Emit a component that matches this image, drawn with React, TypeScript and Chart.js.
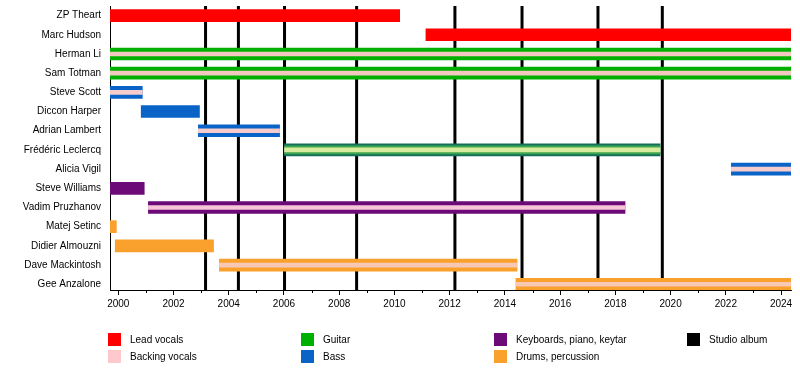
import React, { useEffect, useRef } from 'react';
import { Chart, registerables } from 'chart.js';

Chart.register(...registerables);

const FONT = '"Liberation Sans", Arial, Helvetica, sans-serif';

// ---- data ----
const members = [
  'ZP Theart', 'Marc Hudson', 'Herman Li', 'Sam Totman', 'Steve Scott',
  'Diccon Harper', 'Adrian Lambert', 'Frédéric Leclercq', 'Alicia Vigil',
  'Steve Williams', 'Vadim Pruzhanov', 'Matej Setinc', 'Didier Almouzni',
  'Dave Mackintosh', 'Gee Anzalone',
];
const roles = [
  'Lead vocals', 'Lead vocals', 'Guitar', 'Guitar', 'Bass',
  'Bass', 'Bass', 'Guitar, bass', 'Bass',
  'Keyboards', 'Keyboards', 'Drums', 'Drums',
  'Drums', 'Drums',
];
const startYears = [
  1999.7, 2011.14, 1999.7, 1999.7, 1999.7,
  2000.83, 2002.9, 2006.02, 2022.2,
  1999.7, 2001.09, 1999.7, 1999.89,
  2003.66, 2014.4,
];
const endYears = [
  2010.19, 2024.36, 2024.36, 2024.36, 2000.87,
  2002.94, 2005.84, 2019.62, 2024.36,
  2000.94, 2018.35, 1999.93, 2003.45,
  2014.44, 2024.36,
];
const backingVocals = [
  false, false, true, true, true,
  false, true, true, true,
  false, true, false, false,
  true, true,
];
const albumReleases = [2003.16, 2004.35, 2006.02, 2008.63, 2012.19, 2014.62, 2017.37, 2019.7];
const axisStart = 1999.7;
const axisEnd = 2024.36;
const tickYears = [
  2000, 2001, 2002, 2003, 2004, 2005, 2006, 2007, 2008, 2009, 2010, 2011, 2012,
  2013, 2014, 2015, 2016, 2017, 2018, 2019, 2020, 2021, 2022, 2023, 2024,
];
const legendLabels = [
  'Lead vocals', 'Backing vocals', 'Guitar', 'Bass',
  'Keyboards, piano, keytar', 'Drums, percussion', 'Studio album',
];

// ---- styles ----
const roleColor: Record<string, string> = {
  'Lead vocals': '#ff0000',
  Guitar: '#00b000',
  Bass: '#0a64c8',
  'Guitar, bass': '#13705f',
  Keyboards: '#6c0a78',
  Drums: '#f9a12c',
};
const stripeColor: Record<string, string> = {
  Guitar: '#f2c8c0',
  Bass: '#f6cccc',
  'Guitar, bass': '#d8eca0',
  Keyboards: '#f8c4d8',
  Drums: '#f8c8b4',
};
const legendColors = ['#ff0000', '#ffc8cc', '#00b000', '#0a64c8', '#6c0a78', '#f9a12c', '#000000'];
const legendCols = [108, 301, 494, 687];
const legendRows = [333, 350];
const yMin = -0.5;
const yMax = 14.3;

const albumPlugin = {
  id: 'albumLines',
  beforeDatasetsDraw(chart: any) {
    const { ctx, chartArea, scales } = chart;
    const x = scales.x;
    ctx.save();
    ctx.strokeStyle = '#000';
    ctx.lineWidth = 3;
    albumReleases.forEach((d) => {
      const px = x.getPixelForValue(d);
      ctx.beginPath();
      ctx.moveTo(px, chartArea.top);
      ctx.lineTo(px, chartArea.bottom);
      ctx.stroke();
    });
    ctx.restore();
  },
  afterDraw(chart: any) {
    // short minor ticks for odd years
    const { ctx, chartArea, scales } = chart;
    const x = scales.x;
    ctx.save();
    ctx.strokeStyle = '#000';
    ctx.lineWidth = 1;
    tickYears.filter((y) => y % 2 !== 0).forEach((y) => {
      const px = Math.round(x.getPixelForValue(y)) + 0.5;
      ctx.beginPath();
      ctx.moveTo(px, chartArea.bottom);
      ctx.lineTo(px, chartArea.bottom + 3);
      ctx.stroke();
    });
    ctx.restore();
  },
};

export default function App() {
  const ref = useRef<HTMLCanvasElement | null>(null);

  useEffect(() => {
    if (!ref.current) return;
    Chart.defaults.font.family = FONT;
    const idx = members.map((_, i) => i);
    const stripeIdx = idx.filter((i) => backingVocals[i]);
    const midIdx = idx.filter((i) => roles[i] === 'Guitar, bass');

    const chart = new Chart(ref.current, {
      type: 'bar',
      data: {
        datasets: [
          {
            label: 'stripe',
            data: stripeIdx.map((i) => ({ x: [startYears[i], endYears[i]], y: i })) as any,
            backgroundColor: stripeIdx.map((i) => stripeColor[roles[i]]),
            barThickness: 4,
            order: 1,
          },
          {
            label: 'mid',
            data: midIdx.map((i) => ({ x: [startYears[i], endYears[i]], y: i })) as any,
            backgroundColor: '#3ea64c',
            barThickness: 8,
            order: 2,
          },
          {
            label: 'main',
            data: idx.map((i) => ({ x: [startYears[i], endYears[i]], y: i })) as any,
            backgroundColor: idx.map((i) => roleColor[roles[i]]),
            barThickness: 12,
            order: 3,
          },
        ],
      },
      options: {
        indexAxis: 'y',
        animation: false,
        responsive: false,
        maintainAspectRatio: false,
        layout: { padding: { top: 6, right: 9, left: 0, bottom: 0 } },
        plugins: { legend: { display: false }, tooltip: { enabled: false } },
        datasets: { bar: { grouped: false, borderWidth: 0 } } as any,
        scales: {
          x: {
            type: 'linear',
            bounds: 'data',
            offset: false,
            min: axisStart,
            max: axisEnd,
            afterBuildTicks: (s: any) => {
              s.ticks = tickYears.map((v) => ({ value: v }));
              s.min = axisStart;
              s.max = axisEnd;
            },
            afterFit: (s: any) => {
              s.height = 80;
              s.paddingLeft = 0;
              s.paddingRight = 0;
            },
            grid: {
              drawOnChartArea: false,
              color: '#000',
              tickLength: 5,
              offset: false,
              tickColor: (c: any) => (c.tick && c.tick.value % 2 !== 0 ? 'rgba(0,0,0,0)' : '#000'),
            },
            border: { color: '#000', width: 1 },
            ticks: {
              autoSkip: false,
              maxRotation: 0,
              color: '#000',
              padding: 3,
              font: { family: FONT, size: 10 },
              callback: (v: any) => (Number(v) % 2 === 0 ? String(v) : ''),
            },
          },
          y: {
            type: 'linear',
            bounds: 'data',
            offset: false,
            reverse: true,
            min: yMin,
            max: yMax,
            afterBuildTicks: (s: any) => {
              s.ticks = members.map((_, i) => ({ value: i }));
              s.min = yMin;
              s.max = yMax;
            },
            afterFit: (s: any) => {
              s.width = 110;
              s.paddingTop = 0;
              s.paddingBottom = 0;
            },
            grid: { display: false, drawTicks: false, offset: false },
            border: { color: '#000', width: 1 },
            ticks: {
              autoSkip: false,
              color: '#000',
              padding: 9,
              font: { family: FONT, size: 10 },
              callback: (v: any) => members[Number(v)] ?? '',
            },
          },
        },
      } as any,
      plugins: [albumPlugin],
    });
    return () => chart.destroy();
  }, []);

  return (
    <div style={{ position: 'absolute', left: 0, top: 0, width: 800, height: 370, background: '#fff', fontFamily: FONT }}>
      <canvas ref={ref} width={800} height={370} style={{ position: 'absolute', left: 0, top: 0, width: 800, height: 370 }} />
      {legendLabels.map((label, i) => {
        const col = Math.floor(i / 2);
        const row = i % 2;
        const left = legendCols[col];
        const top = legendRows[row];
        return (
          <div key={label}>
            <div style={{ position: 'absolute', left, top, width: 13, height: 13, background: legendColors[i] }} />
            <div style={{ position: 'absolute', left: left + 22, top: top + 6.5, transform: 'translateY(-50%)', fontSize: 10, lineHeight: '12px', color: '#000', whiteSpace: 'nowrap' }}>{label}</div>
          </div>
        );
      })}
    </div>
  );
}
